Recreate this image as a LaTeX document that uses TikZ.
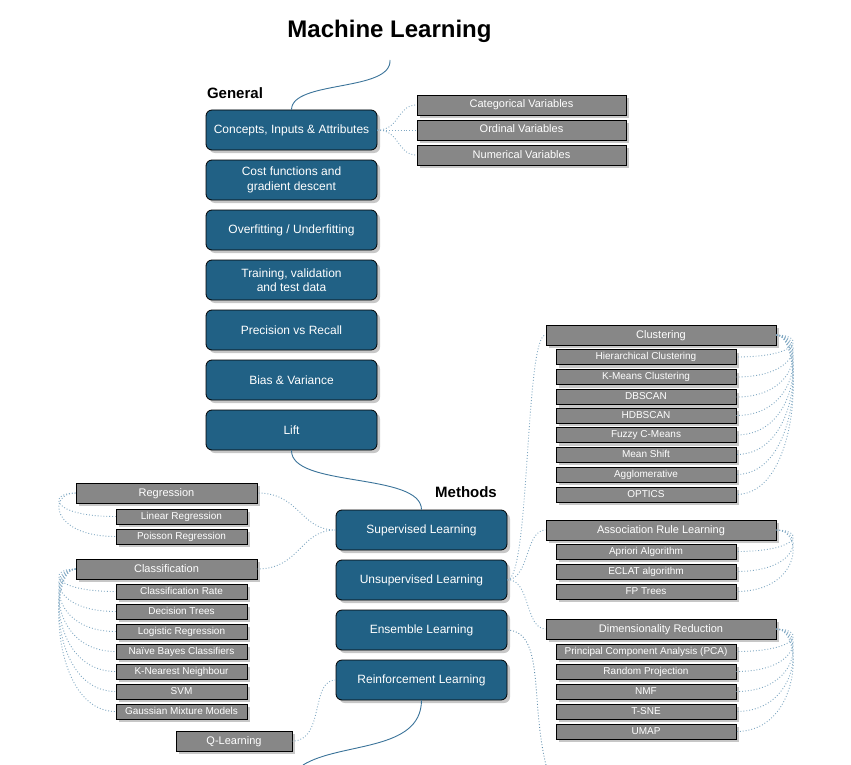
\documentclass[tikz,border=0pt]{standalone}
\usepackage{fontspec}
\setmainfont{Liberation Sans}
\usetikzlibrary{shadows}
\definecolor{mlblue}{HTML}{216185}
\definecolor{mlgrey}{HTML}{878787}
\definecolor{dotblue}{HTML}{7FA7C2}
\definecolor{lineblue}{HTML}{3A7399}
\tikzset{
  bluebox/.style={draw=black, line width=0.8pt, fill=mlblue, rounded corners=6pt, text=white,
    minimum width=171pt, minimum height=40pt, inner sep=0pt, align=center, font=\fontsize{12}{14.5}\selectfont,
    drop shadow={shadow xshift=3pt, shadow yshift=-3pt, fill=black!22, opacity=1}},
  greyhead/.style={draw=black, line width=0.8pt, fill=mlgrey, text=white, inner sep=0pt,
    minimum height=20pt, font=\fontsize{11}{13}\selectfont, text height=7.6pt, text depth=1.6pt,
    drop shadow={shadow xshift=3pt, shadow yshift=-3pt, fill=black!22, opacity=1}},
  greysub/.style={draw=black, line width=0.8pt, fill=mlgrey, text=white, inner sep=0pt,
    minimum height=15pt, font=\fontsize{10}{12}\selectfont, text height=7pt, text depth=1.4pt,
    drop shadow={shadow xshift=3pt, shadow yshift=-3pt, fill=black!22, opacity=1}},
  headline/.style={font=\bfseries\fontsize{15}{18}\selectfont, inner sep=0pt},
  dotlink/.style={draw=dotblue, dotted, line width=0.9pt},
  solidlink/.style={draw=lineblue, line width=0.9pt},
}
\begin{document}
\begin{tikzpicture}[x=1pt,y=-1pt]
\useasboundingbox (0,0) rectangle (851,765);
% titles
\node[font=\bfseries\fontsize{24}{28}\selectfont, inner sep=0pt] (title) at (389.5,31) {Machine Learning};
\node[headline] (general) at (235,93) {General};
\node[headline] (methods) at (466,492) {Methods};
\coordinate (titleend) at (390,60);
% General column
\node[bluebox] (concepts) at (291.5,130) {Concepts, Inputs \& Attributes};
\node[bluebox] (cost) at (291.5,180) {Cost functions and\\gradient descent};
\node[bluebox] (overfit) at (291.5,230) {Overfitting / Underfitting};
\node[bluebox] (training) at (291.5,280) {Training, validation\\and test data};
\node[bluebox] (precision) at (291.5,330) {Precision vs Recall};
\node[bluebox] (bias) at (291.5,380) {Bias \& Variance};
\node[bluebox] (lift) at (291.5,430) {Lift};
% Variables
\node[greyhead, minimum width=209pt] (cat) at (521.5,105) {Categorical Variables};
\node[greyhead, minimum width=209pt] (ord) at (521.5,130) {Ordinal Variables};
\node[greyhead, minimum width=209pt] (num) at (521.5,155) {Numerical Variables};
% Methods
\node[bluebox] (sup) at (421.5,530) {Supervised Learning};
\node[bluebox] (unsup) at (421.5,580) {Unsupervised Learning};
\node[bluebox] (ens) at (421.5,630) {Ensemble Learning};
\node[bluebox] (reinf) at (421.5,680) {Reinforcement Learning};
% Clustering
\node[greyhead, minimum width=230pt] (clust) at (661,335) {Clustering};
\node[greysub, minimum width=180pt] (c1) at (646,357) {Hierarchical Clustering};
\node[greysub, minimum width=180pt] (c2) at (646,377) {K-Means Clustering};
\node[greysub, minimum width=180pt] (c3) at (646,397) {DBSCAN};
\node[greysub, minimum width=180pt] (c4) at (646,415.5) {HDBSCAN};
\node[greysub, minimum width=180pt] (c5) at (646,435) {Fuzzy C-Means};
\node[greysub, minimum width=180pt] (c6) at (646,454.5) {Mean Shift};
\node[greysub, minimum width=180pt] (c7) at (646,474.5) {Agglomerative};
\node[greysub, minimum width=180pt] (c8) at (646,494.5) {OPTICS};
% Association
\node[greyhead, minimum width=230pt] (assoc) at (661,530) {Association Rule Learning};
\node[greysub, minimum width=180pt] (a1) at (646,551.5) {Apriori Algorithm};
\node[greysub, minimum width=180pt] (a2) at (646,571.5) {ECLAT algorithm};
\node[greysub, minimum width=180pt] (a3) at (646,591.5) {FP Trees};
% Dimensionality
\node[greyhead, minimum width=230pt] (dim) at (661,629) {Dimensionality Reduction};
\node[greysub, minimum width=180pt] (d1) at (646,651.5) {Principal Component Analysis (PCA)};
\node[greysub, minimum width=180pt] (d2) at (646,671.5) {Random Projection};
\node[greysub, minimum width=180pt] (d3) at (646,691.5) {NMF};
\node[greysub, minimum width=180pt] (d4) at (646,711.5) {T-SNE};
\node[greysub, minimum width=180pt] (d5) at (646,731.5) {UMAP};
% Regression
\node[greyhead, minimum width=181pt] (reg) at (166.5,493) {Regression};
\node[greysub, minimum width=131pt] (r1) at (181.5,516.5) {Linear Regression};
\node[greysub, minimum width=131pt] (r2) at (181.5,536.5) {Poisson Regression};
% Classification
\node[greyhead, minimum width=181pt] (cls) at (166.5,569) {Classification};
\node[greysub, minimum width=131pt] (k1) at (181.5,591.5) {Classification Rate};
\node[greysub, minimum width=131pt] (k2) at (181.5,611.5) {Decision Trees};
\node[greysub, minimum width=131pt] (k3) at (181.5,631.5) {Logistic Regression};
\node[greysub, minimum width=131pt] (k4) at (181.5,651.5) {Naïve Bayes Classifiers};
\node[greysub, minimum width=131pt] (k5) at (181.5,671.5) {K-Nearest Neighbour};
\node[greysub, minimum width=131pt] (k6) at (181.5,691.5) {SVM};
\node[greysub, minimum width=131pt] (k7) at (181.5,711.5) {Gaussian Mixture Models};
% Q-learning
\node[greyhead, minimum width=116pt] (q) at (234,741) {Q-Learning};
% free ends
\coordinate (reinfend) at (303,765);
\coordinate (ensend) at (546,765);
% solid connectors
\draw[solidlink] (titleend) .. controls (392,92) and (292,80) .. (concepts.north);
\draw[solidlink] (lift.south) .. controls (291,488) and (421,472) .. (sup.north);
\draw[solidlink] (reinf.south) .. controls (421,752) and (340,742) .. (reinfend);
\draw[dotlink, draw=lineblue!80] (ens.east) .. controls (545,632) and (530,700) .. (ensend);
% dotted connectors
\foreach \t in {cat,ord,num}
  \draw[dotlink] (concepts.east) .. controls (400,130) and (397,0|-\t.west) .. (\t.west);
\foreach \t in {clust,assoc,dim}
  \draw[dotlink] (unsup.east) .. controls (530,578) and (525,0|-\t.west) .. (\t.west);
\foreach \t in {reg,cls}
  \draw[dotlink] (sup.west) .. controls (300,530) and (300,0|-\t.east) .. (\t.east);
\draw[dotlink] (reinf.west) .. controls (310,680) and (325,741) .. (q.east);
\foreach \t in {c1,c2,c3,c4,c5,c6,c7,c8}
  \draw[dotlink] (clust.east) .. controls +(28,0) and +(65,0) .. (\t.east);
\foreach \t in {a1,a2,a3}
  \draw[dotlink] (assoc.east) .. controls +(28,0) and +(65,0) .. (\t.east);
\foreach \t in {d1,d2,d3,d4,d5}
  \draw[dotlink] (dim.east) .. controls +(28,0) and +(65,0) .. (\t.east);
\foreach \t in {r1,r2}
  \draw[dotlink] (reg.west) .. controls +(-28,0) and +(-65,0) .. (\t.west);
\foreach \t in {k1,k2,k3,k4,k5,k6,k7}
  \draw[dotlink] (cls.west) .. controls +(-28,0) and +(-65,0) .. (\t.west);
\end{tikzpicture}
\end{document}
